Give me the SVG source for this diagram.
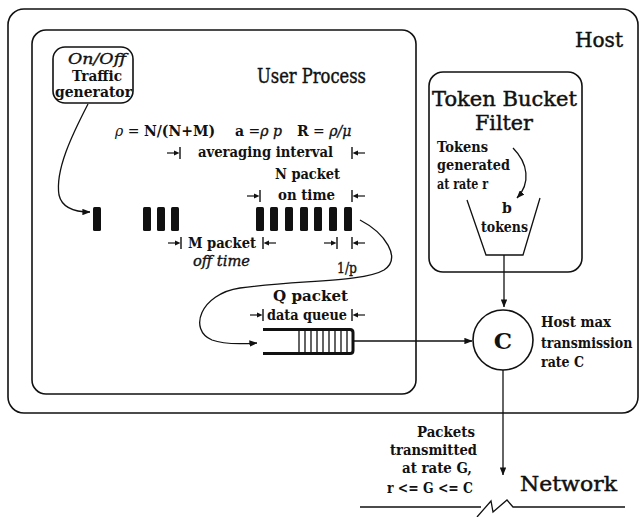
<svg xmlns="http://www.w3.org/2000/svg" width="640" height="517" viewBox="0 0 640 517">
  <style>
    .box { fill: none; stroke: #111; stroke-width: 1.6; }
    .ln { fill: none; stroke: #111; stroke-width: 1.3; }
    .t { font-family: "DejaVu Serif", "Liberation Serif", serif; fill: #111; }
    .title { font-size: 20.5px; stroke: #111; stroke-width: 0.45; }
    .lbl { font-size: 14px; font-weight: bold; }
    .it { font-style: italic; }
    .med { stroke: #111; stroke-width: 0.35; }
    .pkt { fill: #111; }
  </style>
  <defs>
    <marker id="ah" viewBox="0 0 10 8" refX="9.5" refY="4" markerWidth="8" markerHeight="6.4" markerUnits="userSpaceOnUse" orient="auto">
      <path d="M0 0 L10 4 L0 8 Z" fill="#111"/>
    </marker>
    <!-- dimension tick: short arrow pointing right into a vertical bar at x=0 -->
    <g id="tick">
      <path d="M-13 0 H-4" stroke="#111" stroke-width="1.2"/>
      <path d="M-0.5 0 L-6 -2.5 L-6 2.5 Z" fill="#111"/>
      <path d="M0 -6 V6" stroke="#111" stroke-width="1.4"/>
    </g>
  </defs>

  <!-- host container -->
  <g id="host">
    <rect class="box" x="8" y="9" width="630" height="404" rx="16" stroke-width="2"/>
    <text class="t title" x="575" y="47" textLength="48" lengthAdjust="spacingAndGlyphs">Host</text>
  </g>

  <!-- user process -->
  <g id="user-process">
    <rect class="box" x="32" y="30" width="384" height="364" rx="14"/>
    <text class="t title" x="257" y="83" textLength="109" lengthAdjust="spacingAndGlyphs">User Process</text>
    <text class="t" x="115" y="136" font-size="14">
      <tspan class="it">ρ</tspan><tspan> = </tspan><tspan font-weight="bold">N/(N+M)</tspan><tspan x="235" font-weight="bold">a</tspan><tspan> =</tspan><tspan class="it med">ρ p</tspan><tspan x="297" font-weight="bold">R</tspan><tspan> = </tspan><tspan class="it med">ρ/μ</tspan>
    </text>
  </g>

  <!-- traffic generator -->
  <g id="traffic-generator">
    <rect class="box" x="53" y="47" width="80" height="56" rx="12"/>
    <text class="t it med" x="68" y="64" font-size="14.5" textLength="58" lengthAdjust="spacingAndGlyphs">On/Off</text>
    <text class="t lbl" x="72" y="81" textLength="50" lengthAdjust="spacingAndGlyphs">Traffic</text>
    <text class="t lbl" x="55" y="97" textLength="77" lengthAdjust="spacingAndGlyphs">generator</text>
  </g>

  <!-- packet train -->
  <g id="packet-train">
    <rect class="pkt" x="93" y="207" width="8" height="24" rx="1.5"/>
    <rect class="pkt" x="143" y="207" width="8" height="24" rx="1.5"/>
    <rect class="pkt" x="157" y="207" width="8" height="24" rx="1.5"/>
    <rect class="pkt" x="171" y="207" width="8" height="24" rx="1.5"/>
    <rect class="pkt" x="256" y="207" width="8" height="24" rx="1.5"/>
    <rect class="pkt" x="270" y="207" width="8" height="24" rx="1.5"/>
    <rect class="pkt" x="285" y="207" width="8" height="24" rx="1.5"/>
    <rect class="pkt" x="300" y="207" width="8" height="24" rx="1.5"/>
    <rect class="pkt" x="314" y="207" width="8" height="24" rx="1.5"/>
    <rect class="pkt" x="329" y="207" width="8" height="24" rx="1.5"/>
    <rect class="pkt" x="344" y="207" width="8" height="24" rx="1.5"/>
  </g>

  <!-- interval annotations -->
  <g id="intervals">
    <use href="#tick" transform="translate(180,153)"/>
    <use href="#tick" transform="translate(352,153) scale(-1,1)"/>
    <text class="t lbl" x="198" y="157" textLength="135" lengthAdjust="spacingAndGlyphs">averaging interval</text>

    <text class="t lbl" x="275" y="179" textLength="65" lengthAdjust="spacingAndGlyphs">N packet</text>
    <use href="#tick" transform="translate(260,196)"/>
    <use href="#tick" transform="translate(352,196) scale(-1,1)"/>
    <text class="t lbl" x="278" y="200" textLength="57" lengthAdjust="spacingAndGlyphs">on time</text>

    <use href="#tick" transform="translate(181,243)"/>
    <use href="#tick" transform="translate(263,243) scale(-1,1)"/>
    <text class="t lbl" x="188" y="248" textLength="68" lengthAdjust="spacingAndGlyphs">M packet</text>
    <text class="t it med" x="193" y="266" font-size="14" textLength="57" lengthAdjust="spacingAndGlyphs">off time</text>

    <use href="#tick" transform="translate(337,243)"/>
    <use href="#tick" transform="translate(352,243) scale(-1,1)"/>
    <text class="t med" x="337" y="273" font-size="14.5" textLength="20" lengthAdjust="spacingAndGlyphs">1/p</text>
  </g>

  <!-- data queue -->
  <g id="data-queue">
    <text class="t lbl" x="273" y="301" textLength="75" lengthAdjust="spacingAndGlyphs">Q packet</text>
    <use href="#tick" transform="translate(263,315)"/>
    <use href="#tick" transform="translate(352,315) scale(-1,1)"/>
    <text class="t lbl" x="267" y="320" textLength="80" lengthAdjust="spacingAndGlyphs">data queue</text>
    <path d="M263 329.5 H350 Q353 329.5 353 332.5 V350.5 Q353 353.5 350 353.5 H263" fill="none" stroke="#111" stroke-width="3"/>
    <path d="M299 330 V353 M305 330 V353 M311 330 V353 M317 330 V353 M323 330 V353 M329 330 V353 M335 330 V353 M341 330 V353 M347 330 V353" stroke="#111" stroke-width="1.3"/>
  </g>

  <!-- token bucket filter -->
  <g id="token-bucket">
    <rect class="box" x="429" y="72" width="153" height="200" rx="14"/>
    <text class="t title" x="432" y="106" textLength="145" lengthAdjust="spacingAndGlyphs">Token Bucket</text>
    <text class="t title" x="475" y="130" textLength="58" lengthAdjust="spacingAndGlyphs">Filter</text>
    <text class="t lbl" x="437" y="152" textLength="51" lengthAdjust="spacingAndGlyphs">Tokens</text>
    <text class="t lbl" x="437" y="170" textLength="73" lengthAdjust="spacingAndGlyphs">generated</text>
    <text class="t lbl" x="437" y="189" textLength="51" lengthAdjust="spacingAndGlyphs">at rate r</text>
    <path class="ln" d="M467 200 L486 255 H523 L540 198"/>
    <text class="t lbl" x="502" y="213">b</text>
    <text class="t lbl" x="481" y="232" textLength="47" lengthAdjust="spacingAndGlyphs">tokens</text>
  </g>

  <!-- transmission rate node -->
  <g id="rate-node">
    <circle class="box" cx="503" cy="340" r="30" stroke-width="1.4"/>
    <text class="t" x="503" y="349" font-size="23" font-weight="bold" text-anchor="middle">C</text>
    <text class="t lbl" x="541" y="327" textLength="70" lengthAdjust="spacingAndGlyphs">Host max</text>
    <text class="t lbl" transform="translate(541,348) scale(0.9,1)" x="0" y="0">transmission</text>
    <text class="t lbl" x="541" y="367" textLength="43" lengthAdjust="spacingAndGlyphs">rate C</text>
  </g>

  <!-- network -->
  <g id="network">
    <path class="ln" d="M360 507 H481 M477 517 L491 501 L493 512 L507 500 L513 507 H625"/>
    <text class="t title" x="520" y="491" textLength="97" lengthAdjust="spacingAndGlyphs">Network</text>
    <text class="t lbl" x="417" y="437" textLength="58" lengthAdjust="spacingAndGlyphs">Packets</text>
    <text class="t lbl" x="390" y="455" textLength="87" lengthAdjust="spacingAndGlyphs">transmitted</text>
    <text class="t lbl" x="402" y="473" textLength="70" lengthAdjust="spacingAndGlyphs">at rate G,</text>
    <text class="t lbl" x="387" y="493" textLength="86" lengthAdjust="spacingAndGlyphs">r &lt;= G &lt;= C</text>
  </g>

  <!-- connectors -->
  <g id="connectors" class="ln">
    <path d="M88 104 C72 135 55 170 59 195 C62 208 74 212 90 212" marker-end="url(#ah)"/>
    <path d="M360 220 C385 233 402 258 384 270 C364 282 300 280 240 288 C200 294 188 330 212 340 C225 345 243 344 257 343" marker-end="url(#ah)"/>
    <path d="M513 148 C528 163 531 183 517 198" marker-end="url(#ah)"/>
    <path d="M504 255 V307" marker-end="url(#ah)"/>
    <path d="M353 341 H472" marker-end="url(#ah)"/>
    <path d="M503 370 V475" marker-end="url(#ah)"/>
  </g>
</svg>
